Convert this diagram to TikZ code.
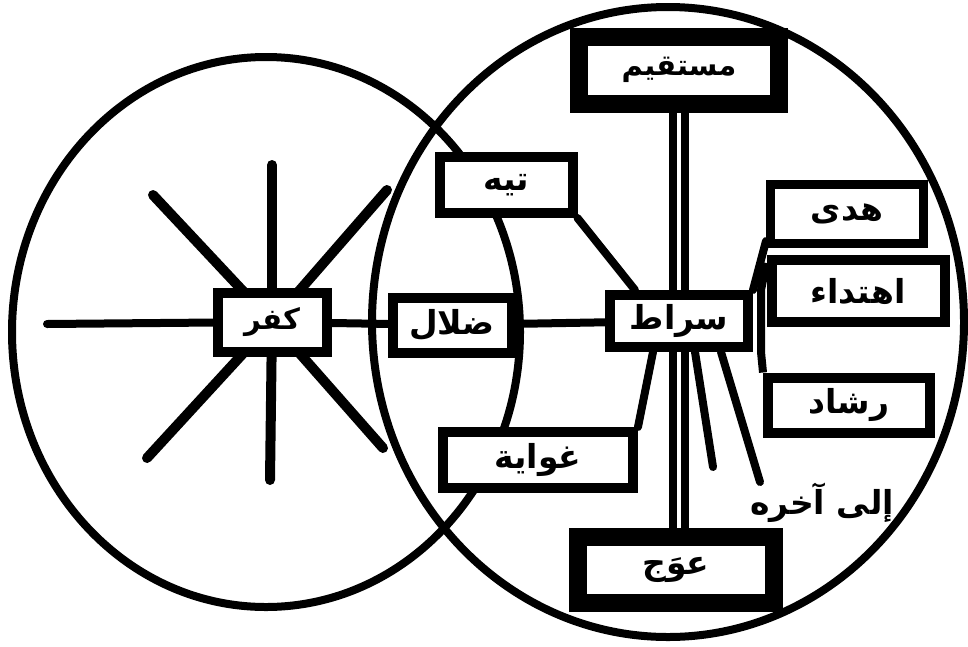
\documentclass[tikz,border=0pt]{standalone}
\usepackage{fontspec}
\newfontfamily\arabicfont[Script=Arabic]{DejaVu Sans}
\TeXXeTstate=1
\usetikzlibrary{backgrounds}
\tikzset{
  box/.style={draw, line width=10pt, fill=white, inner sep=0pt,
    font=\arabicfont\bfseries\fontsize{33}{36}\selectfont},
  heavybox/.style={box, line width=18pt},
  link/.style={line width=8pt, line cap=round},
  ray/.style={line width=10pt, line cap=round},
  ring/.style={line width=8pt},
  label/.style={inner sep=0pt, font=\arabicfont\bfseries\fontsize{33}{36}\selectfont}
}
\begin{document}
\begin{tikzpicture}[x=1pt, y=-1pt]
\useasboundingbox (0,0) rectangle (968,646);
% boxes
\node[box, minimum width=109pt, minimum height=59pt] (kufr) at (272,322) {\fontsize{29}{32}\selectfont\beginR كفر\endR};
\node[box, minimum width=119pt, minimum height=55pt] (dalal) at (452,325) {\beginR ضلال\endR};
\node[box, minimum width=133pt, minimum height=56pt] (tih) at (506,185) {\beginR تيه\endR};
\node[box, minimum width=190pt, minimum height=56pt] (ghawaya) at (538,460) {\beginR غواية\endR};
\node[box, minimum width=138pt, minimum height=52pt] (sirat) at (679,321) {\beginR سراط\endR};
\node[heavybox, minimum width=200pt, minimum height=67pt] (mustaqim) at (679,70) {\fontsize{29}{32}\selectfont\beginR مستقيم\endR};
\node[heavybox, minimum width=196pt, minimum height=66pt] (iwaj) at (676,570) {\beginR عوَج\endR};
\node[box, line width=9pt, minimum width=153pt, minimum height=59pt] (huda) at (847,214) {\beginR هدى\endR};
\node[box, minimum width=173pt, minimum height=62pt] (ihtida) at (858,291) {\beginR اهتداء\endR};
\node[box, minimum width=162pt, minimum height=55pt] (rashad) at (849,405) {\beginR رشاد\endR};
\node[label] (etc) at (822,503) {\beginR إلى آخره\endR};
% free ends
\coordinate (rU) at (272,165);
\coordinate (rD) at (270,480);
\coordinate (rL) at (47,324);
\coordinate (rUL) at (153,195);
\coordinate (rUR) at (387,190);
\coordinate (rDL) at (147,458);
\coordinate (rDR) at (383,448);
\coordinate (e1) at (713,467);
\coordinate (e2) at (760,482);
\begin{scope}[on background layer]
  % circles
  \draw[ring] (266,332) ellipse [x radius=254pt, y radius=275pt];
  \draw[ring] (668,322) ellipse [x radius=296pt, y radius=315pt];
  % rays of kufr
  \foreach \r in {rU,rD,rUL,rUR,rDL,rDR} \draw[ray] (kufr.center) -- (\r);
  \draw[link] (kufr.center) -- (rL);
  % connectors
  \draw[link] (kufr) -- (dalal);
  \draw[link] (dalal) -- (sirat);
  \draw[link] (tih.south east) -- ([xshift=30pt]sirat.north west);
  \draw[link] ([xshift=-26pt]sirat.south) -- (ghawaya.north east);
  \draw[link] ([xshift=16pt]sirat.south) -- (e1);
  \draw[link] ([xshift=42pt]sirat.south) -- (e2);
  \draw[link] (sirat.north east) -- ([yshift=7pt]huda.south west);
  \draw[link, line cap=butt] ([shift={(0,8)}]ihtida.north west) -- ([shift={(8,0)}]sirat.north east)
     -- ([shift={(8,0)}]sirat.south east) -- (rashad.north west);
  % double line mustaqim - iwaj
  \draw[line width=20pt] (mustaqim.south) -- (mustaqim.south |- iwaj.north);
  \draw[line width=4pt, white] (mustaqim.south) -- (mustaqim.south |- iwaj.north);
\end{scope}
\end{tikzpicture}
\end{document}
